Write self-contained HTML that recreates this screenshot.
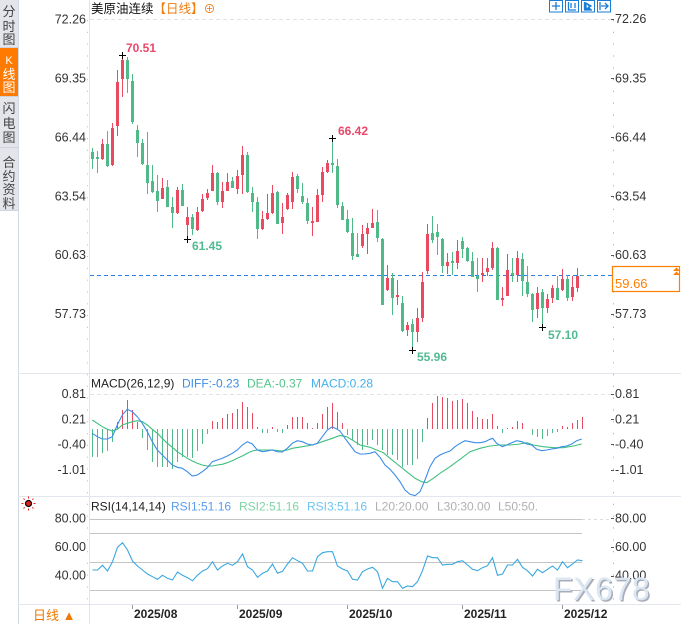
<!DOCTYPE html>
<html><head><meta charset="utf-8"><style>
html,body{margin:0;padding:0;background:#fff;width:681px;height:624px;overflow:hidden}
svg{position:absolute;left:0;top:0}
text{font-family:"Liberation Sans","Noto Sans CJK SC",sans-serif}
</style></head><body>
<svg width="681" height="624" viewBox="0 0 681 624" xmlns="http://www.w3.org/2000/svg">
<rect width="681" height="624" fill="#fff"/>
<!-- sidebar -->
<rect x="0" y="0" width="18" height="210" fill="#e3e5ea"/>
<rect x="0" y="48" width="18" height="48" fill="#ff7a00"/>
<path d="M0 47.5H18M0 96.5H18M0 147.5H18M0 210.5H18" stroke="#cfd4dc" stroke-width="1"/>
<path d="M18.5 0V624" stroke="#d3d9e2" stroke-width="1"/>
<g font-size="13" fill="#444" text-anchor="middle">
<text x="9" y="16">分</text><text x="9" y="31">时</text><text x="9" y="44">图</text>
<text x="9" y="64" fill="#fff" font-size="11">K</text><text x="9" y="79" fill="#fff">线</text><text x="9" y="92" fill="#fff">图</text>
<text x="9" y="113">闪</text><text x="9" y="128">电</text><text x="9" y="142">图</text>
<text x="9" y="167">合</text><text x="9" y="181">约</text><text x="9" y="194">资</text><text x="9" y="208">料</text>
</g>
<!-- panel lines -->
<path d="M89.5 0V624" stroke="#dfe5ec" stroke-width="1"/>
<path d="M18 373.5H681M18 496.5H681M18 604.5H681" stroke="#e2e7ee" stroke-width="1"/>
<path d="M90 19.5H612M90 394.5H612" stroke="#e2e2e2" stroke-width="1" stroke-dasharray="4,3"/>
<path d="M613.5 20V604" stroke="#b0b0b0" stroke-width="1" stroke-dasharray="1.2,10.6"/>
<path d="M87.5 20V604" stroke="#c8c8c8" stroke-width="1" stroke-dasharray="1.2,10.6"/>
<!-- title -->
<text x="91" y="13" font-size="12.5" fill="#111">美原油连续<tspan fill="#f07d10">【日线】</tspan><tspan fill="#f07d10" font-size="12">⊕</tspan></text>
<!-- top-right icons -->
<g stroke="#1a7dd7" stroke-width="1" fill="#fff">
<rect x="549.5" y="0.5" width="13" height="11.5"/><rect x="565.5" y="0.5" width="13" height="11.5"/>
<rect x="581.5" y="0.5" width="13" height="11.5"/><rect x="597.5" y="0.5" width="13" height="11.5"/>
</g>
<g stroke="#1a7dd7" stroke-width="1.3" fill="none">
<path d="M556 2V10M552 6H560"/><path d="M568.5 2V10H576M571 3V8M575 3V8"/><path d="M584.5 2V10H592M586 3L591 6L586 9Z" fill="#1a7dd7"/><path d="M600 2V10M601 6H608M605 3L608 6L605 9"/>
</g>
<!-- axis labels main -->
<g font-size="12.5" fill="#333" text-anchor="end">
<text x="86" y="23.3">72.26</text><text x="86" y="82.7">69.35</text><text x="86" y="141.5">66.44</text><text x="86" y="200.3">63.54</text><text x="86" y="259.2">60.63</text><text x="86" y="318.2">57.73</text>
<text x="86" y="398">0.81</text><text x="86" y="423.3">0.21</text><text x="86" y="448.7">-0.40</text><text x="86" y="474">-1.01</text>
<text x="86" y="522.3">80.00</text><text x="86" y="551">60.00</text><text x="86" y="579.5">40.00</text>
</g>
<g font-size="12.5" fill="#333">
<text x="615" y="23">72.26</text><text x="615" y="82.5">69.35</text><text x="615" y="141.5">66.44</text><text x="615" y="200.3">63.54</text><text x="615" y="259.2">60.63</text><text x="615" y="318.2">57.73</text>
<text x="615" y="398">0.81</text><text x="615" y="423.3">0.21</text><text x="615" y="448.7">-0.40</text><text x="615" y="474">-1.01</text>
<text x="615" y="522.3">80.00</text><text x="615" y="551">60.00</text><text x="615" y="579.5">40.00</text>
</g>
<path d="M611 19.5H614M611 78.5H614M611 137.5H614M611 196.5H614M611 255.5H614M611 314.5H614M611 394.5H614M611 419.5H614M611 444.5H614M611 470.5H614M611 518.5H614M611 547.5H614M611 576.5H614" stroke="#555" stroke-width="1"/>
<!-- current price line -->
<path d="M90 275.5H612" stroke="#2680e0" stroke-width="1" stroke-dasharray="4,3"/>
<rect x="612.5" y="266.5" width="67" height="25" fill="#fff" stroke="#ff7f00" stroke-width="1.2"/>
<text x="615" y="288" font-size="13" fill="#ff7f00">59.66</text>
<path d="M673 271L676.5 267.5L680 271ZM673 275L676.5 271.5L680 275Z" fill="#ff7f00"/>
<!-- candles -->
<path stroke="#e84a5f" stroke-width="1" fill="none" d="M102.5 139V160M112.5 123V166M117.5 70V136M122.5 55V97M162.5 178V199M177.5 187V214M187.5 207V239M197.5 207V231M202.5 194V212M207.5 189V200M212.5 165V191M222.5 182V208M227.5 173V191M237.5 170V194M242.5 146V194M262.5 211V230M267.5 194V220M272.5 185V214M282.5 203V234M287.5 193V210M292.5 172V209M312.5 207V236M317.5 189V222M322.5 167V202M327.5 160V173M362.5 225V248M367.5 223V254M372.5 209V228M387.5 265V291M397.5 280V305M407.5 322V336M417.5 308V342M422.5 272V322M427.5 224V274M447.5 253V274M457.5 240V269M482.5 258V282M487.5 258V276M492.5 242V270M502.5 287V306M507.5 254V296M517.5 251V282M537.5 287V318M547.5 294V313M552.5 285V303M562.5 269V291M572.5 276V301M577.5 268V292"/>
<path stroke="#e84a5f" stroke-width="3" fill="none" d="M102.5 144V159M112.5 128V165M117.5 82V126M122.5 60V79M162.5 188V199M177.5 190V213M187.5 217V225M197.5 212V230M202.5 199V211M207.5 193V198M212.5 173V191M222.5 191V202M227.5 182V191M237.5 176V189M242.5 155V175M262.5 219V229M267.5 213V219M272.5 193V213M282.5 217V223M287.5 195V209M292.5 177V202M312.5 221V223M317.5 195V222M322.5 172V195M327.5 163V172M362.5 234V246M367.5 228V234M372.5 223V228M387.5 278V290M397.5 295V297M407.5 325V330M417.5 318V332M422.5 282V318M427.5 234V271M447.5 262V266M457.5 251V263M482.5 273V275M487.5 268V272M492.5 248V268M502.5 298V300M507.5 270V296M517.5 258V275M537.5 293V309M547.5 299V308M552.5 288V298M562.5 279V290M572.5 287V297M577.5 276V288"/>
<path stroke="#4fb987" stroke-width="1" fill="none" d="M92.5 148V169M97.5 151V173M107.5 131V167M127.5 57V93M132.5 74V124M137.5 125V157M142.5 139V165M147.5 132V194M152.5 165V193M157.5 175V212M167.5 180V207M172.5 197V228M182.5 184V206M192.5 214V235M217.5 172V205M232.5 177V188M247.5 152V193M252.5 187V212M257.5 197V239M277.5 191V224M297.5 174V193M302.5 183V204M307.5 198V224M332.5 138V173M337.5 159V208M342.5 202V220M347.5 210V233M352.5 218V260M357.5 233V257M377.5 210V242M382.5 238V305M392.5 273V315M402.5 296V332M412.5 319V350M432.5 216V243M437.5 224V255M442.5 238V273M452.5 252V275M462.5 237V258M467.5 247V262M472.5 252V277M477.5 258V292M497.5 247V300M512.5 258V282M522.5 253V296M527.5 266V297M532.5 293V322M542.5 289V327M557.5 276V300M567.5 275V301"/>
<path stroke="#4fb987" stroke-width="3" fill="none" d="M92.5 152V159M97.5 157V159M107.5 144V166M127.5 60V79M132.5 81V122M137.5 130V143M142.5 143V164M147.5 165V183M152.5 181V192M157.5 191V201M167.5 187V207M172.5 207V213M182.5 190V206M192.5 217V229M217.5 173V202M232.5 181V188M247.5 155V192M252.5 193V202M257.5 202V229M277.5 192V224M297.5 176V189M302.5 196V202M307.5 203V221M332.5 163V165M337.5 166V205M342.5 206V220M347.5 219V232M352.5 233V256M357.5 254V257M377.5 222V238M382.5 239V305M392.5 278V298M402.5 303V331M412.5 324V332M432.5 233V240M437.5 232V237M442.5 239V266M452.5 261V263M462.5 241V249M467.5 248V261M472.5 261V277M477.5 276V279M497.5 248V300M512.5 273V275M522.5 259V281M527.5 282V294M532.5 294V310M542.5 292V308M557.5 288V300M567.5 279V298"/>
<path stroke="#4fb987" stroke-width="1" d="M581 275.5H584"/>
<!-- hi/lo markers -->
<path stroke="#000" stroke-width="1" d="M119 55.5H126M122.5 52V59M184 239.5H191M187.5 236V243M329 138.5H336M332.5 135V142M409 350.5H416M412.5 347V354M539 327.5H546M542.5 324V331"/>
<g font-size="12" font-weight="bold">
<text x="126" y="52" fill="#e8486a">70.51</text>
<text x="192" y="250" fill="#52ba90">61.45</text>
<text x="338" y="135" fill="#e8486a">66.42</text>
<text x="417" y="361" fill="#52ba90">55.96</text>
<text x="548" y="339" fill="#52ba90">57.10</text>
</g>
<!-- MACD -->
<text x="91" y="387.5" font-size="12" fill="#222">MACD(26,12,9)</text>
<text x="182" y="387.5" font-size="12" fill="#3b8de8">DIFF:-0.23</text>
<text x="247" y="387.5" font-size="12" fill="#55c48a">DEA:-0.37</text>
<text x="311" y="387.5" font-size="12" fill="#45b0e8">MACD:0.28</text>
<path stroke="#e84a5f" stroke-width="1" d="M117.5 429V422M122.5 429V410M127.5 429V400M132.5 429V410M137.5 429V422M212.5 429V421M217.5 429V422M222.5 429V418M227.5 429V414M232.5 429V413M237.5 429V409M242.5 429V402M247.5 429V407M252.5 429V413M257.5 429V427M272.5 429V427M287.5 429V425M292.5 429V417M297.5 429V417M302.5 429V417M307.5 429V423M312.5 429V428M317.5 429V423M322.5 429V414M327.5 429V407M332.5 429V403M337.5 429V412M342.5 429V423M427.5 429V418M432.5 429V403M437.5 429V396M442.5 429V397M447.5 429V398M452.5 429V401M457.5 429V400M462.5 429V399M467.5 429V403M472.5 429V411M477.5 429V417M482.5 429V419M487.5 429V419M492.5 429V414M497.5 429V426M507.5 429V428M512.5 429V427M517.5 429V421M522.5 429V423M562.5 429V426M567.5 429V427M572.5 429V423M577.5 429V420M582.5 429V417"/>
<path stroke="#4fb987" stroke-width="1" d="M92.5 429V457M97.5 429V457M102.5 429V453M107.5 429V451M112.5 429V442M142.5 429V438M147.5 429V450M152.5 429V462M157.5 429V467M162.5 429V467M167.5 429V467M172.5 429V469M177.5 429V462M182.5 429V457M187.5 429V457M192.5 429V458M197.5 429V451M202.5 429V444M207.5 429V434M262.5 429V433M267.5 429V433M277.5 429V432M282.5 429V433M347.5 429V435M352.5 429V440M357.5 429V445M362.5 429V450M367.5 429V445M372.5 429V440M377.5 429V445M382.5 429V450M387.5 429V455M392.5 429V455M397.5 429V460M402.5 429V467M407.5 429V465M412.5 429V465M417.5 429V459M422.5 429V442M502.5 429V433M532.5 429V435M537.5 429V437M542.5 429V439M547.5 429V436M552.5 429V433M557.5 429V432"/>
<polyline fill="none" stroke="#3fbf7f" stroke-width="1.1" points="92.3,420 97.3,423.3 102.3,426.7 107.3,429.3 112.3,431 117.3,429.3 122.3,425 127.3,423.3 132.3,421.7 137.3,420.7 142.3,421.7 147.3,425 152.3,429.3 157.3,433.3 162.3,438.3 167.3,443.3 172.3,447.3 177.3,451.7 182.3,455 187.3,458.3 192.3,461 197.3,463.3 202.3,465 207.3,466 212.3,466 217.3,465 222.3,464.3 227.3,462.7 232.3,460.7 237.3,458.3 242.3,456 247.3,453.3 252.3,451 257.3,450 262.3,450 272.3,450 282.3,451 287.3,450 292.3,448.3 302.3,446.7 312.3,445 322.3,441.7 332.3,438.3 340,435.5 346.7,436.7 355,441.7 360,445 370,447.3 376.7,450 383.3,452.7 390,458.3 398.3,465 406.7,471.7 415,478.3 421.7,481.7 426.7,482.7 433.3,478.3 440,473.3 450,466.7 460,459.3 470,451.7 480,448.3 490,446 500,445 510,445 520,444 526.7,442.7 533.3,445 543.3,446.7 553.3,447.7 563.3,447.7 573.3,446 581.7,444"/>
<polyline fill="none" stroke="#3b8de8" stroke-width="1.1" points="92.3,433.3 97.3,436.7 102.3,439 107.3,439 112.3,436.7 117.3,425 122.3,415 127.3,409.3 132.3,411.7 137.3,416.7 142.3,423.3 147.3,431.7 152.3,441.7 157.3,450 162.3,455 167.3,460 172.3,465 177.3,467.3 182.3,468.3 187.3,471.7 192.3,476 197.3,475 202.3,471.7 207.3,467.7 212.3,461.7 217.3,460 222.3,458.3 227.3,456 232.3,453.3 237.3,450 242.3,445 247.3,441.7 252.3,444 257.3,450 262.3,451.7 267.3,451 272.3,450 277.3,451.7 282.3,452 287.3,448.3 292.3,443.3 297.3,440.7 302.3,441.7 307.3,444 312.3,445 317.3,443.3 322.3,436.7 327.3,430 332.3,426.7 337.3,429.3 340,431 345,438.3 350,445 355,451.7 360,454 365,454 370,453.3 375,451.7 380,457.3 385,465 390,469.3 395,475 400,481.7 405,490 410,494.3 415,495.7 420,491.7 425,480 430,466.7 435,458.3 440,455 445,452.7 450,451 455,446.7 460,443.3 465,440.7 470,441.7 475,442.7 480,442.7 485,441.7 490,439.3 492.7,438.3 496.7,443.3 502.3,446.7 506.7,445 511.7,442.7 516.7,440.7 521.7,441.7 526.7,444 531.7,445 536.7,449.3 541.7,450.7 546.7,450 551.7,449 556.7,448.3 561.7,446.7 566.7,446 571.7,444 576.7,440.7 581.7,439"/>
<!-- RSI -->
<g transform="translate(28.5,503.5)">
<circle r="3" fill="#e02020" stroke="#000" stroke-width="1.2"/>
<path stroke="#e02020" stroke-width="1" d="M0 -7V-5M0 5V7M-7 0H-5M5 0H7M-5 -5L-3.8 -3.8M5 5L3.8 3.8M-5 5L-3.8 3.8M5 -5L3.8 -3.8"/>
</g>
<text x="91" y="510.5" font-size="12" fill="#222">RSI(14,14,14)</text>
<text x="171" y="510.5" font-size="12" fill="#5b9cf0">RSI1:51.16</text>
<text x="239" y="510.5" font-size="12" fill="#7fd4a4">RSI2:51.16</text>
<text x="307" y="510.5" font-size="12" fill="#6cc4f0">RSI3:51.16</text>
<text x="375" y="510.5" font-size="12" fill="#b0b0b0">L20:20.00</text>
<text x="437" y="510.5" font-size="12" fill="#b0b0b0">L30:30.00</text>
<text x="498" y="510.5" font-size="12" fill="#b0b0b0">L50:50.</text>
<path d="M90 519.5H582M90 533.5H582M90 562.5H582M90 590.5H582" stroke="#c4c4c4" stroke-width="1"/>
<path d="M582 519.5H612" stroke="#ddd" stroke-width="1" stroke-dasharray="3,3"/>
<polyline fill="none" stroke="#3aa8e0" stroke-width="1.1" points="92.5,570 97.5,570 102.5,565.3 107.5,571 112.5,561.7 117.5,547.3 122.5,542.7 127.5,550 132.5,561 137.5,566 142.5,570 147.5,574 152.5,576.7 157.5,579.3 162.5,575.3 167.5,578.3 172.5,580 177.5,572 182.5,575.3 187.5,577.7 192.5,580.7 197.5,575.3 202.5,571 207.5,568.7 212.5,561.7 217.5,570 222.5,566 227.5,563.3 232.5,565.3 237.5,561.7 242.5,554 247.5,566.7 252.5,570 257.5,577.3 262.5,573.3 267.5,571 272.5,564 277.5,573.3 282.5,571.3 287.5,564 292.5,557.7 297.5,560.7 302.5,563.3 307.5,571 312.5,571 317.5,556.7 322.5,552.7 327.5,551.7 332.5,551.7 337.5,566 342.5,569 347.5,571 352.5,579.3 357.5,580 362.5,571.7 367.5,569 372.5,567.3 377.5,571.7 382.5,588.3 387.5,578.3 392.5,581.7 397.5,581.7 402.5,588.3 407.5,586 412.5,586.7 417.5,581.7 422.5,570.7 427.5,556 432.5,557.7 437.5,557.7 442.5,565 447.5,564.3 452.5,564.3 457.5,561.7 462.5,560.7 467.5,565 472.5,569.3 477.5,570.7 482.5,567.7 487.5,565.7 492.5,557.7 497.5,575.3 502.5,574 507.5,565 512.5,565 517.5,559.3 522.5,567.3 527.5,570.7 532.5,576 537.5,569.3 542.5,572.7 547.5,569.3 552.5,566 557.5,570 562.5,561.7 567.5,567.7 572.5,564 577.5,560 582.5,560.7"/>
<!-- watermark -->
<text x="554.5" y="601.5" font-size="32" fill="#a9adb8" letter-spacing="0.6">FX678</text>
<text x="553" y="600" font-size="32" fill="#dce7f4" letter-spacing="0.6">FX678</text>
<!-- date axis -->
<path d="M132.5 605V609M237.5 605V609M347.5 605V609M462.5 605V609M562.5 605V609" stroke="#999" stroke-width="1"/>
<g font-size="12" font-weight="bold" fill="#222">
<text x="134" y="618">2025/08</text><text x="239" y="618">2025/09</text><text x="349" y="618">2025/10</text><text x="464" y="618">2025/11</text><text x="564" y="618">2025/12</text>
</g>
<text x="33" y="620" font-size="13" fill="#f07800">日线 ▲</text>
</svg>
</body></html>
